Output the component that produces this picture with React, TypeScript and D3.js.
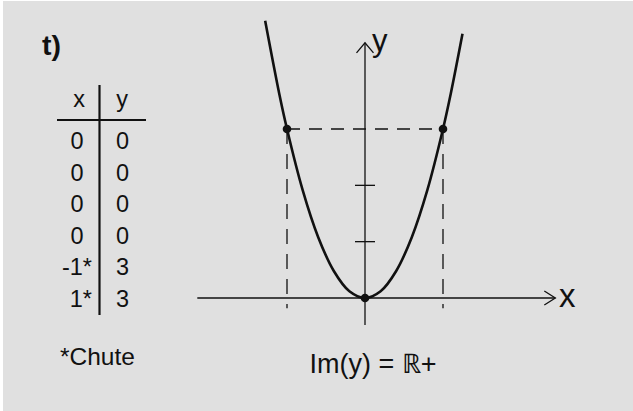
import React from "react";
import * as d3 from "d3";

const tableX = ["0", "0", "0", "0", "-1*", "1*"];
const tableY = ["0", "0", "0", "0", "3", "3"];
const headerX = "x";
const headerY = "y";
const footnote = "*Chute";
const panelLabel = "t)";
const imageLabel = "Im(y) = \u211D+";

// curve points (x, y)
const curveX = [-1.28, -1.1, -1, -0.8, -0.6, -0.4, -0.2, 0, 0.2, 0.4, 0.6, 0.8, 1, 1.1, 1.25];
const curveY = [4.92, 3.63, 3, 1.92, 1.08, 0.48, 0.12, 0, 0.12, 0.48, 1.08, 1.92, 3, 3.63, 4.69];
const markX = [-1, 1, 0];
const markY = [3, 3, 0];
const yTicks = [1, 2];

const W = 633;
const H = 411;
const FONT = "'Liberation Sans', Arial, Helvetica, sans-serif";

export default function App() {
  const x = d3.scaleLinear().domain([-1, 1]).range([287, 443]);
  const y = d3.scaleLinear().domain([0, 3]).range([298, 129]);

  const line = d3
    .line<number>()
    .x((_, i) => x(curveX[i]))
    .y((_, i) => y(curveY[i]))
    .curve(d3.curveCatmullRom.alpha(0.5));

  const xMin = -2.15, xMax = 2.44;
  const yMin = -0.48, yMax = 4.53;
  const ink = "#111";

  const rowY0 = 149;
  const rowStep = 31.6;
  const fs = 23.5;

  return (
    <svg width={W} height={H} style={{ position: "absolute", left: 0, top: 0 }}>
      <rect x={0} y={0} width={W} height={H} fill="#ffffff" />
      <rect x={3} y={1} width={W - 3} height={H - 1} fill="#e0e0e0" />

      {/* left panel */}
      <text x={42} y={55} fontFamily={FONT} fontWeight="bold" fontSize={28.5} fill={ink}>
        {panelLabel}
      </text>
      <line x1={99.5} x2={99.5} y1={85} y2={315} stroke={ink} strokeWidth={2.2} />
      <line x1={57} x2={146} y1={120} y2={120} stroke={ink} strokeWidth={2} />
      <text x={79} y={107} textAnchor="middle" fontFamily={FONT} fontSize={fs} fill={ink}>
        {headerX}
      </text>
      <text x={122} y={107} textAnchor="middle" fontFamily={FONT} fontSize={fs} fill={ink}>
        {headerY}
      </text>
      {tableX.map((v, i) => (
        <text key={"tx" + i} x={v.includes("*") ? 92 : 77} y={rowY0 + i * rowStep}
          textAnchor={v.includes("*") ? "end" : "middle"} fontFamily={FONT} fontSize={fs} fill={ink}>
          {v}
        </text>
      ))}
      {tableY.map((v, i) => (
        <text key={"ty" + i} x={122.5} y={rowY0 + i * rowStep} textAnchor="middle"
          fontFamily={FONT} fontSize={fs} fill={ink}>
          {v}
        </text>
      ))}
      <text x={60} y={365} fontFamily={FONT} fontSize={24.5} fill={ink}>
        {footnote}
      </text>

      {/* axes */}
      <line x1={x(xMin)} x2={x(xMax)} y1={y(0)} y2={y(0)} stroke={ink} strokeWidth={1.3} />
      <polyline
        points={`${x(xMax) - 11},${y(0) - 7} ${x(xMax)},${y(0)} ${x(xMax) - 11},${y(0) + 7}`}
        fill="none" stroke={ink} strokeWidth={1.3} />
      <line x1={x(0)} x2={x(0)} y1={y(yMin)} y2={y(yMax)} stroke={ink} strokeWidth={1.3} />
      <polyline
        points={`${x(0) - 8.5},${y(yMax) + 10} ${x(0)},${y(yMax)} ${x(0) + 8.5},${y(yMax) + 10}`}
        fill="none" stroke={ink} strokeWidth={1.3} />
      {yTicks.map((t) => (
        <line key={"yt" + t} x1={x(0) - 10} x2={x(0) + 10} y1={y(t)} y2={y(t)} stroke={ink} strokeWidth={1.3} />
      ))}
      <text x={559} y={307} fontFamily={FONT} fontSize={33} fill={ink}>x</text>
      <text x={372} y={51} fontFamily={FONT} fontSize={31} fill={ink}>y</text>

      {/* dashed guides */}
      <line x1={x(markX[0])} x2={x(markX[1])} y1={y(markY[0])} y2={y(markY[1])}
        stroke={ink} strokeWidth={1.3} strokeDasharray="13,9" />
      {[0, 1].map((i) => (
        <line key={"vd" + i} x1={x(markX[i])} x2={x(markX[i])} y1={y(markY[i])} y2={y(-0.18)}
          stroke={ink} strokeWidth={1.3} strokeDasharray="15,10" />
      ))}

      {/* curve */}
      <path d={line(curveX) || ""} fill="none" stroke={ink} strokeWidth={2.6} />
      {markX.map((mx, i) => (
        <circle key={"m" + i} cx={x(mx)} cy={y(markY[i])} r={4.3} fill={ink} />
      ))}

      <text x={373} y={373} textAnchor="middle" fontFamily={FONT} fontSize={27} fill={ink}>
        {imageLabel}
      </text>
    </svg>
  );
}
